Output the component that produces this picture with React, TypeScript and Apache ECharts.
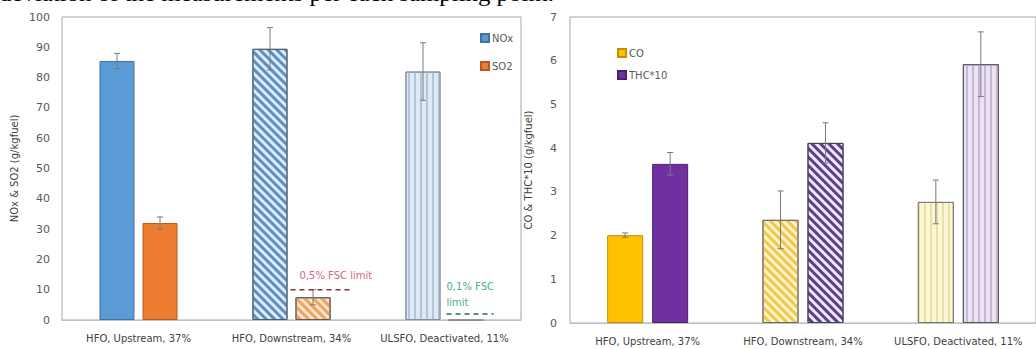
import React, { useEffect, useRef } from "react";
import * as echarts from "echarts";

// Sampling points shared by both panels
const categories = ["HFO, Upstream, 37%", "HFO, Downstream, 34%", "ULSFO, Deactivated, 11%"];

// Left panel: NOx and SO2 emission factors (g/kg fuel) with standard deviations
const noxValues = [85.5, 89.5, 82];
const noxErrors = [2.5, 7, 9.5];
const so2Values = [32, 7.5, 0];
const so2Errors = [2, 2.5, 0];

// Sulphur limit reference levels drawn over the SO2 bars
const limitCategoryIndex = [1, 2];
const limitValues = [10, 2];
const limitLabels = ["0,5% FSC limit", "0,1% FSC\nlimit"];

// Right panel: CO and THC*10 emission factors (g/kg fuel) with standard deviations
const coValues = [2.01, 2.36, 2.77];
const coErrors = [0.05, 0.66, 0.5];
const thcValues = [3.64, 4.12, 5.92];
const thcErrors = [0.26, 0.46, 0.74];

const FONT = "DejaVu Sans";

const diag = (color: string) => ({
  symbol: "rect",
  symbolSize: 1,
  color,
  dashArrayX: [1, 0],
  dashArrayY: [2.4, 2.6],
  rotation: Math.PI / 4,
});

const vert = (color: string) => ({
  symbol: "rect",
  symbolSize: 1,
  color,
  dashArrayX: [1.2, 3.4],
  dashArrayY: [1, 0],
  rotation: 0,
});

// Per-category fill styles: solid, diagonal hatch, vertical lines
const noxStyles = [
  { color: "#5B9BD5", borderColor: "#41719C" },
  { color: "#dfebf7", borderColor: "#4d5b69", decal: diag("#5c90c4") },
  { color: "#dfe9f3", borderColor: "#7f8fa0", decal: vert("#b3c5d8") },
];
const so2Styles = [
  { color: "#ED7D31", borderColor: "#b05c22" },
  { color: "#fbe3cc", borderColor: "#5a5a5a", decal: diag("#eea35f") },
  { color: "#fbe3cc", borderColor: "#7f7f7f" },
];
const coStyles = [
  { color: "#FFC000", borderColor: "#bf9000" },
  { color: "#fff3cf", borderColor: "#6a6a6a", decal: diag("#f2c847") },
  { color: "#fdf8d2", borderColor: "#777777", decal: vert("#e6dfae") },
];
const thcStyles = [
  { color: "#7030A0", borderColor: "#4b1f6c" },
  { color: "#efe7f6", borderColor: "#454545", decal: diag("#5b3f8c") },
  { color: "#ebe2f2", borderColor: "#5a5a5a", decal: vert("#c6b6d8") },
];

const limitStyles = [
  { line: "#8a2e35", text: "#d46a78", from: -1, to: 61, textDx: 9, textDy: -14 },
  { line: "#2f6e45", text: "#4fb07c", from: 2, to: 49, textDx: 0, textDy: -19 },
];

function errorSeries(
  name: string,
  axis: number,
  values: number[],
  errors: number[],
  dx: number
) {
  const data = values.map((v, i) => [i, v - errors[i], v + errors[i], errors[i]]);
  return {
    type: "custom",
    name,
    xAxisIndex: axis,
    yAxisIndex: axis,
    z: 4,
    silent: true,
    data,
    renderItem: (_params: any, api: any) => {
      if (!(api.value(3) > 0)) return null;
      const top = api.coord([api.value(0), api.value(2)]);
      const bot = api.coord([api.value(0), api.value(1)]);
      const x = top[0] + dx;
      const style = { stroke: "#7a7a7a", lineWidth: 1 };
      return {
        type: "group",
        children: [
          { type: "line", shape: { x1: x, y1: top[1], x2: x, y2: bot[1] }, style },
          { type: "line", shape: { x1: x - 3, y1: top[1], x2: x + 3, y2: top[1] }, style },
          { type: "line", shape: { x1: x - 3, y1: bot[1], x2: x + 3, y2: bot[1] }, style },
        ],
      };
    },
  };
}

export default function App() {
  const ref = useRef<HTMLDivElement>(null);

  useEffect(() => {
    document.body.style.margin = "0";
    const chart = echarts.init(ref.current!, null, { renderer: "svg" });

    const axisLabel = { fontFamily: FONT, color: "#595959" };

    chart.setOption({
      animation: false,
      backgroundColor: "#ffffff",
      textStyle: { fontFamily: FONT },
      graphic: [
        {
          type: "text",
          left: -1,
          top: -18,
          scaleX: 1.13,
          style: {
            text: "deviation of the measurements per each sampling point.",
            font: '22px "Liberation Serif"',
            fill: "#000000",
          },
        },
      ],
      grid: [
        { left: 62, top: 17, width: 459, height: 303, show: true, borderColor: "#a6a6a6", borderWidth: 1 },
        { left: 570, top: 17, width: 474, height: 306, show: true, borderColor: "#a6a6a6", borderWidth: 1 },
      ],
      legend: [
        {
          data: ["NOx", "SO2"],
          orient: "vertical",
          left: 475,
          top: 28,
          itemWidth: 8,
          itemHeight: 8,
          itemGap: 18,
          icon: "rect",
          textStyle: { fontFamily: FONT, fontSize: 10, color: "#595959", padding: [0, 0, 0, -2] },
        },
        {
          data: ["CO", "THC*10"],
          orient: "vertical",
          left: 612,
          top: 43,
          itemWidth: 8,
          itemHeight: 8,
          itemGap: 12,
          icon: "rect",
          textStyle: { fontFamily: FONT, fontSize: 10, color: "#595959", padding: [0, 0, 0, -2] },
        },
      ],
      xAxis: [0, 1].map((g) => ({
        gridIndex: g,
        type: "category",
        data: categories,
        axisLine: { lineStyle: { color: "#bfbfbf" } },
        axisTick: { show: false },
        axisLabel: { ...axisLabel, fontSize: 10, color: "#404040", margin: 13, interval: 0 },
      })),
      yAxis: [
        {
          gridIndex: 0,
          type: "value",
          min: 0,
          max: 100,
          interval: 10,
          axisLine: { show: false },
          axisTick: { show: false },
          splitLine: { show: false },
          axisLabel: { ...axisLabel, fontSize: 11, margin: 12 },
          name: "NOx & SO2 (g/kgfuel)",
          nameLocation: "middle",
          nameRotate: 90,
          nameGap: 43,
          nameTextStyle: { fontFamily: FONT, fontSize: 10, color: "#404040" },
        },
        {
          gridIndex: 1,
          type: "value",
          min: 0,
          max: 7,
          interval: 1,
          axisLine: { show: false },
          axisTick: { show: false },
          splitLine: { show: false },
          axisLabel: { ...axisLabel, fontSize: 11, margin: 13 },
          name: "CO & THC*10 (g/kgfuel)",
          nameLocation: "middle",
          nameRotate: 90,
          nameGap: 37,
          nameTextStyle: { fontFamily: FONT, fontSize: 10, color: "#404040" },
        },
      ],
      series: [
        {
          type: "bar",
          name: "NOx",
          xAxisIndex: 0,
          yAxisIndex: 0,
          barWidth: 35,
          barGap: "23%",
          itemStyle: { color: "#5B9BD5", borderColor: "#41719C", borderWidth: 1 },
          data: noxValues.map((v, i) => ({ value: v, itemStyle: noxStyles[i] })),
        },
        {
          type: "bar",
          name: "SO2",
          xAxisIndex: 0,
          yAxisIndex: 0,
          barWidth: 35,
          barGap: "23%",
          itemStyle: { color: "#ED7D31", borderColor: "#b05c22", borderWidth: 1 },
          data: so2Values.map((v, i) => ({ value: v, itemStyle: so2Styles[i] })),
        },
        {
          type: "bar",
          name: "CO",
          xAxisIndex: 1,
          yAxisIndex: 1,
          barWidth: 36,
          barGap: "25%",
          itemStyle: { color: "#FFC000", borderColor: "#bf9000", borderWidth: 1 },
          data: coValues.map((v, i) => ({ value: v, itemStyle: coStyles[i] })),
        },
        {
          type: "bar",
          name: "THC*10",
          xAxisIndex: 1,
          yAxisIndex: 1,
          barWidth: 36,
          barGap: "25%",
          itemStyle: { color: "#7030A0", borderColor: "#4b1f6c", borderWidth: 1 },
          data: thcValues.map((v, i) => ({ value: v, itemStyle: thcStyles[i] })),
        },
        errorSeries("noxErr", 0, noxValues, noxErrors, -21.5),
        errorSeries("so2Err", 0, so2Values, so2Errors, 21.5),
        errorSeries("coErr", 1, coValues, coErrors, -22.5),
        errorSeries("thcErr", 1, thcValues, thcErrors, 22.5),
        {
          type: "custom",
          name: "limits",
          xAxisIndex: 0,
          yAxisIndex: 0,
          z: 5,
          silent: true,
          data: limitValues.map((v, i) => [limitCategoryIndex[i], v, i]),
          renderItem: (_params: any, api: any) => {
            const p = api.coord([api.value(0), api.value(1)]);
            const s = limitStyles[api.value(2)];
            return {
              type: "group",
              children: [
                {
                  type: "line",
                  shape: { x1: p[0] + s.from, y1: p[1], x2: p[0] + s.to, y2: p[1] },
                  style: { stroke: s.line, lineWidth: 1.5, lineDash: [5, 4] },
                },
                {
                  type: "text",
                  x: p[0] + s.from + s.textDx,
                  y: p[1] + s.textDy,
                  style: {
                    text: limitLabels[api.value(2)],
                    fill: s.text,
                    font: `10px "${FONT}"`,
                    align: "left",
                    verticalAlign: "middle",
                    lineHeight: 16,
                  },
                },
              ],
            };
          },
        },
      ],
    });

    return () => chart.dispose();
  }, []);

  return <div ref={ref} style={{ width: 1036, height: 349 }} />;
}
